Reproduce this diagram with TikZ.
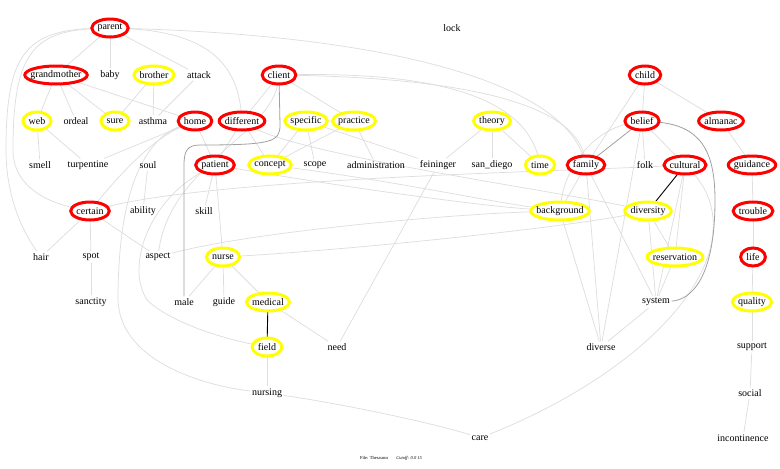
\documentclass[tikz,border=0pt]{standalone}
\usepackage{fontspec}
\setmainfont{Liberation Serif}
\usetikzlibrary{calc}
\pgfdeclarelayer{bg}
\pgfdeclarelayer{mid}
\pgfsetlayers{bg,mid,main}
\definecolor{eg}{HTML}{DEDEDE}
\definecolor{dg}{HTML}{A0A0A0}
\definecolor{rr}{HTML}{FF0000}
\definecolor{yy}{HTML}{FFFF00}
\tikzset{
  lbl/.style={font=\fontsize{10}{12}\selectfont, inner xsep=1.5pt, inner ysep=2pt},
  e/.style={draw=eg, line width=0.75pt},
  dk/.style={draw=dg, line width=0.8pt},
  bk/.style={draw=black, line width=0.9pt},
  ering/.style={line width=3pt, fill=white}
}
\newcommand\enode[5]{%
  \node[lbl] (#1) at (#2,#3) {#4};
  \begin{pgfonlayer}{mid}
  \path[ering, draw=#5] let \p1=($(#1.east)-(#1.west)$) in (#1.center) ellipse [x radius={0.5*\x1+4pt}, y radius=9pt];
  \end{pgfonlayer}}
\newcommand\tnode[4]{\node[lbl] (#1) at (#2,#3) {#4};}
\begin{document}
\begin{tikzpicture}[x=1pt,y=-1pt]
\useasboundingbox (0,0) rectangle (780,469);
% row 1
\enode{parent}{110}{28}{parent}{rr}
\tnode{lock}{452}{28}{lock}
% row 2
\enode{grandmother}{56}{75}{grandmother}{rr}
\tnode{baby}{110}{75}{baby}
\enode{brother}{154}{75}{brother}{yy}
\tnode{attack}{199}{75}{attack}
\enode{client}{279}{75}{client}{rr}
\enode{child}{645}{75}{child}{rr}
% row 3
\enode{web}{37}{121}{web}{yy}
\tnode{ordeal}{76}{121}{ordeal}
\enode{sure}{115}{121}{sure}{yy}
\tnode{asthma}{153}{121}{asthma}
\enode{home}{195}{121}{home}{rr}
\enode{different}{242}{121}{different}{rr}
\enode{specific}{306}{121}{specific}{yy}
\enode{practice}{354}{121}{practice}{yy}
\enode{theory}{492}{121}{theory}{yy}
\enode{belief}{642}{121}{belief}{rr}
\enode{almanac}{721}{121}{almanac}{rr}
% row 4
\tnode{smell}{40}{165}{smell}
\tnode{turpentine}{88}{165}{turpentine}
\tnode{soul}{148}{165}{soul}
\enode{patient}{215}{165}{patient}{rr}
\enode{concept}{270}{165}{concept}{yy}
\tnode{scope}{315}{165}{scope}
\tnode{administration}{376}{165}{administration}
\tnode{feininger}{438}{165}{feininger}
\tnode{sandiego}{492}{165}{san\_diego}
\enode{time}{540}{165}{time}{yy}
\enode{family}{586}{165}{family}{rr}
\tnode{folk}{645}{165}{folk}
\enode{cultural}{685}{165}{cultural}{rr}
\enode{guidance}{752}{165}{guidance}{rr}
% row 5
\enode{certain}{90}{211}{certain}{rr}
\tnode{ability}{143}{211}{ability}
\tnode{skill}{204}{211}{skill}
\enode{background}{560}{211}{background}{yy}
\enode{diversity}{648}{211}{diversity}{yy}
\enode{trouble}{753}{211}{trouble}{rr}
% row 6
\tnode{hair}{41}{257}{hair}
\tnode{spot}{91}{257}{spot}
\tnode{aspect}{158}{257}{aspect}
\enode{nurse}{223}{257}{nurse}{yy}
\enode{reservation}{675}{257}{reservation}{yy}
\enode{life}{753}{257}{life}{rr}
% row 7
\tnode{sanctity}{91}{302}{sanctity}
\tnode{male}{184}{302}{male}
\tnode{guide}{224}{302}{guide}
\enode{medical}{268}{302}{medical}{yy}
\tnode{system}{656}{302}{system}
\enode{quality}{752}{302}{quality}{yy}
% row 8
\enode{field}{267}{347}{field}{yy}
\tnode{need}{337}{347}{need}
\tnode{diverse}{601}{347}{diverse}
\tnode{support}{752}{347}{support}
% row 9
\tnode{nursing}{267}{393}{nursing}
\tnode{social}{750}{393}{social}
% row 10
\tnode{care}{480}{438}{care}
\tnode{incontinence}{743}{438}{incontinence}
% footer
\node[font=\fontsize{4.5}{5}\selectfont, inner sep=0pt] (footer) at (391,458) {File: Thesaurus\hspace{8pt}\textit{Cutoff: 0.0 15}};

\begin{pgfonlayer}{bg}
% straight light edges
\foreach \a/\b in {parent/grandmother, parent/baby, parent/attack,
  grandmother/web, grandmother/ordeal, grandmother/sure, grandmother/home,
  brother/sure, brother/asthma, attack/asthma,
  web/smell, web/turpentine, home/turpentine, home/patient,
  client/different, client/practice,
  specific/concept, specific/scope, practice/concept, practice/administration, specific/feininger,
  theory/feininger, theory/sandiego, theory/time, feininger/need,
  child/belief, child/almanac, child/family, belief/folk, belief/cultural,
  almanac/guidance, guidance/trouble, trouble/life, life/quality,
  quality/support, support/social, social/incontinence,
  different/patient, different/concept, patient/skill, patient/nurse, soul/ability,
  certain/spot, certain/hair, certain/aspect, spot/sanctity,
  nurse/male, nurse/guide, nurse/medical, medical/need, field/nursing,
  diversity/system, diversity/reservation, reservation/system, cultural/reservation,
  system/diverse, family/background, family/system, family/diverse,
  background/diverse, cultural/system, belief/diverse}
  {\draw[e] (\a) -- (\b);}
% curved light edges
\draw[e] (nursing) .. controls (350,405) and (440,425) .. (care);
\draw[e] (parent) .. controls (215,32) and (238,70) .. (different);
\draw[e] (parent) .. controls (380,35) and (560,80) .. (family);
\draw[e] (client) .. controls (430,72) and (525,95) .. (time);
\draw[e] (client) .. controls (450,78) and (575,100) .. (family);
\draw[e] (belief) .. controls (595,130) and (565,165) .. (background);
\draw[e] (parent) .. controls (25,30) and (6,55) .. (6,150)
   .. controls (6,200) and (25,235) .. (hair);
\draw[e] (parent) .. controls (32,31) and (13,55) .. (13,150)
   .. controls (13,185) and (45,202) .. (certain);
\draw[e] (home) .. controls (150,140) and (115,180) .. (certain);
\draw[e] (home) .. controls (140,140) and (118,200) .. (118,300)
   .. controls (120,360) and (200,385) .. (nursing);
\draw[e] (client) .. controls (272,135) and (170,165) .. (aspect);
\draw[e] (patient) .. controls (150,200) and (125,265) .. (147,300)
   .. controls (170,322) and (220,338) .. (field);
\draw[e] (care) .. controls (600,390) and (690,320) .. (710,250)
   .. controls (720,210) and (705,185) .. (cultural);
\draw[e] (certain) .. controls (220,178) and (550,172) .. (cultural);
\draw[e] (concept) .. controls (400,182) and (480,200) .. (background);
\draw[e] (patient) .. controls (350,188) and (480,206) .. (background);
\draw[e] (different) .. controls (300,155) and (550,190) .. (diversity);
\draw[e] (aspect) .. controls (250,232) and (450,214) .. (background);
\draw[e] (nurse) .. controls (350,250) and (560,228) .. (diversity);
% dark grey edges
\draw[dk] (belief) -- (family);
\draw[dk] (client) -- (280,125) .. controls (280,142) and (272,145) .. (200,145)
   .. controls (188,145) and (184,150) .. (184,165) -- (male);
\draw[dk] (belief) .. controls (700,125) and (715,150) .. (715,200)
   .. controls (715,280) and (690,300) .. (system);
% black edges
\draw[bk] (medical) -- (field);
\draw[bk] (cultural) -- (diversity);
\end{pgfonlayer}
\end{tikzpicture}
\end{document}
